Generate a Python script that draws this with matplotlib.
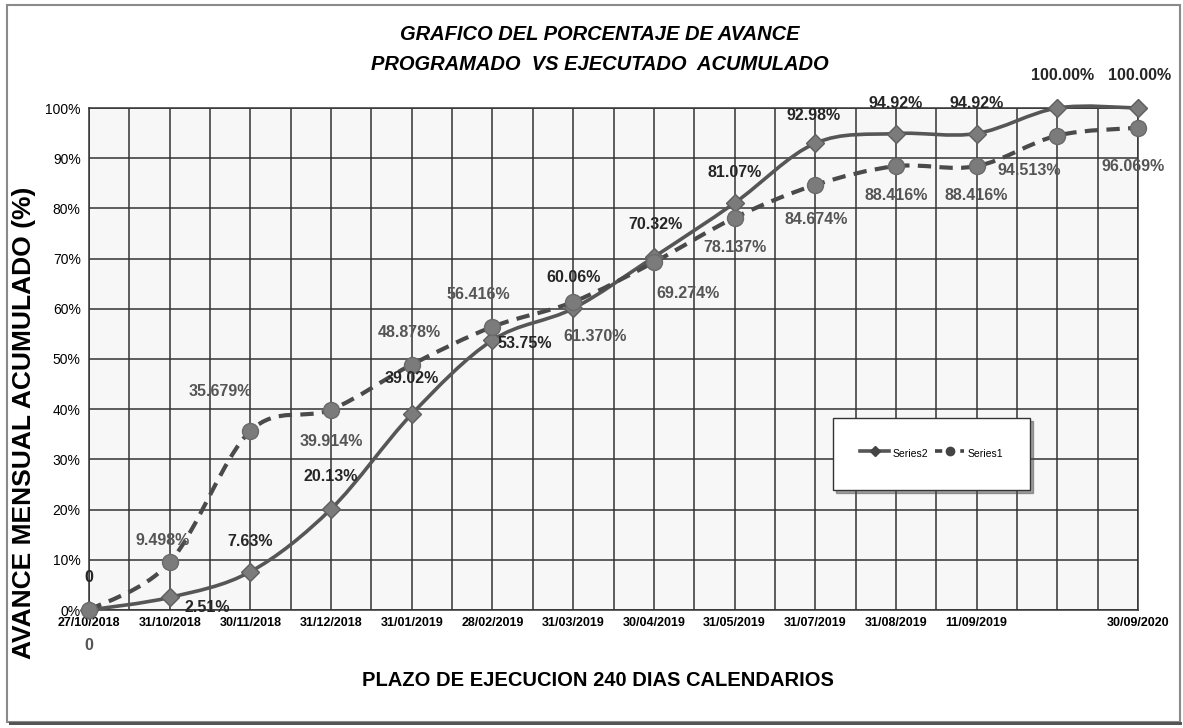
import numpy as np
import matplotlib
matplotlib.use("Agg")
import matplotlib.pyplot as plt
from matplotlib.path import Path
from matplotlib.patches import PathPatch, Rectangle
from matplotlib.lines import Line2D

# data
fechas = ["27/10/2018", "31/10/2018", "30/11/2018", "31/12/2018", "31/01/2019",
          "28/02/2019", "31/03/2019", "30/04/2019", "31/05/2019", "31/07/2019",
          "31/08/2019", "11/09/2019", "", "30/09/2020"]
series2 = [0, 2.51, 7.63, 20.13, 39.02, 53.75, 60.06, 70.32, 81.07, 92.98,
           94.92, 94.92, 100.00, 100.00]
series1 = [0, 9.498, 35.679, 39.914, 48.878, 56.416, 61.370, 69.274, 78.137,
           84.674, 88.416, 88.416, 94.513, 96.069]
etiq2 = ["0", "2.51%", "7.63%", "20.13%", "39.02%", "53.75%", "60.06%", "70.32%",
         "81.07%", "92.98%", "94.92%", "94.92%", "100.00%", "100.00%"]
etiq1 = ["0", "9.498%", "35.679%", "39.914%", "48.878%", "56.416%", "61.370%",
         "69.274%", "78.137%", "84.674%", "88.416%", "88.416%", "94.513%", "96.069%"]

# label offsets in pixels (dx, dy)
off2 = [(0, 32), (38, -10), (0, 30), (0, 32), (0, 36), (32, -3), (0, 31), (2, 32),
        (0, 31), (-2, 28), (0, 30), (0, 30), (5, 32), (2, 32)]
off1 = [(0, -35), (-7, 22), (-30, 39), (0, -32), (-2, 32), (-14, 32), (22, -35),
        (34, -31), (0, -30), (1, -35), (0, -29), (0, -29), (-28, -35), (-5, -39)]

NARROW = ["Liberation Sans", "DejaVu Sans"]
LINE = "#565656"
MARK = "#7b7b7b"

fig = plt.figure(figsize=(11.83, 7.28), dpi=100)
fig.patch.set_facecolor("white")
ax = fig.add_axes([89/1183, 118/728, 1049/1183, 502/728])
ax.set_facecolor("#f7f7f7")

x = np.arange(len(fechas))


def smooth_path(xs, ys):
    # catmull-rom style bezier through the points (like Excel smoothed line)
    p = np.column_stack([xs, ys]).astype(float)
    n = len(p)
    verts = [p[0]]
    codes = [Path.MOVETO]
    for i in range(n - 1):
        p0 = p[i - 1] if i > 0 else p[i]
        p3 = p[i + 2] if i + 2 < n else p[i + 1]
        c1 = p[i] + (p[i + 1] - p0) / 6.0
        c2 = p[i + 1] - (p3 - p[i]) / 6.0
        verts += [c1, c2, p[i + 1]]
        codes += [Path.CURVE4] * 3
    return Path(verts, codes)


ax.add_patch(PathPatch(smooth_path(x, series2), fill=False, edgecolor=LINE,
                       lw=2.6, zorder=3, capstyle="round", clip_on=False))
ax.add_patch(PathPatch(smooth_path(x, series1), fill=False, edgecolor="#4a4a4a",
                       lw=3.0, linestyle=(0, (3.2, 2.0)), zorder=3, clip_on=False))
ax.plot(x, series2, linestyle="none", marker="D", ms=9, mfc=MARK, mec="#5e5e5e",
        mew=1.0, zorder=4, clip_on=False)
ax.plot(x, series1, linestyle="none", marker="o", ms=11.5, mfc=MARK, mec="#6a6a6a",
        mew=1.0, zorder=4, clip_on=False)

for i in range(len(x)):
    ax.annotate(etiq2[i], (x[i], series2[i]), xytext=off2[i], textcoords="offset pixels",
                ha="center", va="center", fontsize=11.5, fontweight="bold",
                color="#262626", family=NARROW, zorder=6, annotation_clip=False)
    ax.annotate(etiq1[i], (x[i], series1[i]), xytext=off1[i], textcoords="offset pixels",
                ha="center", va="center", fontsize=11.5, fontweight="bold",
                color="#555555", family=NARROW, zorder=6, annotation_clip=False)

ax.set_xlim(0, len(fechas) - 1)
ax.set_ylim(0, 100)
ax.set_xticks(x)
ax.set_xticklabels(fechas, fontsize=9, fontweight="bold", family=NARROW)
ax.set_xticks(np.arange(0.5, len(fechas) - 1, 1.0), minor=True)
ax.set_yticks(np.arange(0, 101, 10))
ax.set_yticklabels([f"{v}%" for v in range(0, 101, 10)], fontsize=10, family=NARROW)
ax.tick_params(axis="both", which="both", length=0, pad=6)
ax.tick_params(axis="x", pad=5)
ax.grid(True, which="major", color="#333333", lw=1.1)
ax.grid(True, which="minor", axis="x", color="#333333", lw=1.1)
ax.set_axisbelow(True)
for s in ax.spines.values():
    s.set_color("#333333")
    s.set_linewidth(1.1)

# legend
h2 = Line2D([], [], color=LINE, lw=2.6, marker="D", ms=5, mfc="#444444", mec="#444444")
h1 = Line2D([], [], color="#444444", lw=2.6, linestyle=(0, (2, 1.5)), marker="o", ms=6,
            mfc="#444444", mec="#444444")
leg = ax.legend([h2, h1], ["Series2", "Series1"], ncol=2, loc="upper left",
                bbox_to_anchor=((833 - 89) / 1049, (610 - 418) / 502),
                prop={"family": NARROW, "size": 7.5}, frameon=True, fancybox=False,
                shadow=True, borderpad=2.6, borderaxespad=0, handlelength=2.8,
                handleheight=2.3, columnspacing=0.7, handletextpad=0.3)
leg.get_frame().set_edgecolor("#333333")
leg.get_frame().set_linewidth(1.0)
leg.set_zorder(7)

fig.text(600/1183, 1 - 35/728, "GRAFICO DEL PORCENTAJE DE AVANCE", ha="center",
         va="center", fontsize=14.5, fontweight="bold", style="italic", family=NARROW)
fig.text(600/1183, 1 - 64/728, "PROGRAMADO  VS EJECUTADO  ACUMULADO", ha="center",
         va="center", fontsize=14.5, fontweight="bold", style="italic", family=NARROW)
fig.text(598/1183, 1 - 681/728, "PLAZO DE EJECUCION 240 DIAS CALENDARIOS", ha="center",
         va="center", fontsize=14.5, fontweight="bold", family=NARROW)
fig.text(24/1183, 1 - 423/728, "AVANCE MENSUAL ACUMULADO (%)", ha="center",
         va="center", rotation=90, fontsize=19, fontweight="bold",
         family=["Liberation Sans", "DejaVu Sans"])

# outer frame of the chart
fig.patches.append(Rectangle((7/1183, 1 - 722/728), 1173/1183, 717/728,
                             transform=fig.transFigure, fill=False,
                             edgecolor="#8a8a8a", lw=1.5))
fig.patches.append(Rectangle((9/1183, 1 - 725/728), 1173/1183, 3/728,
                             transform=fig.transFigure, facecolor="#555555",
                             edgecolor="none"))

fig.savefig("out.png", dpi=100)
